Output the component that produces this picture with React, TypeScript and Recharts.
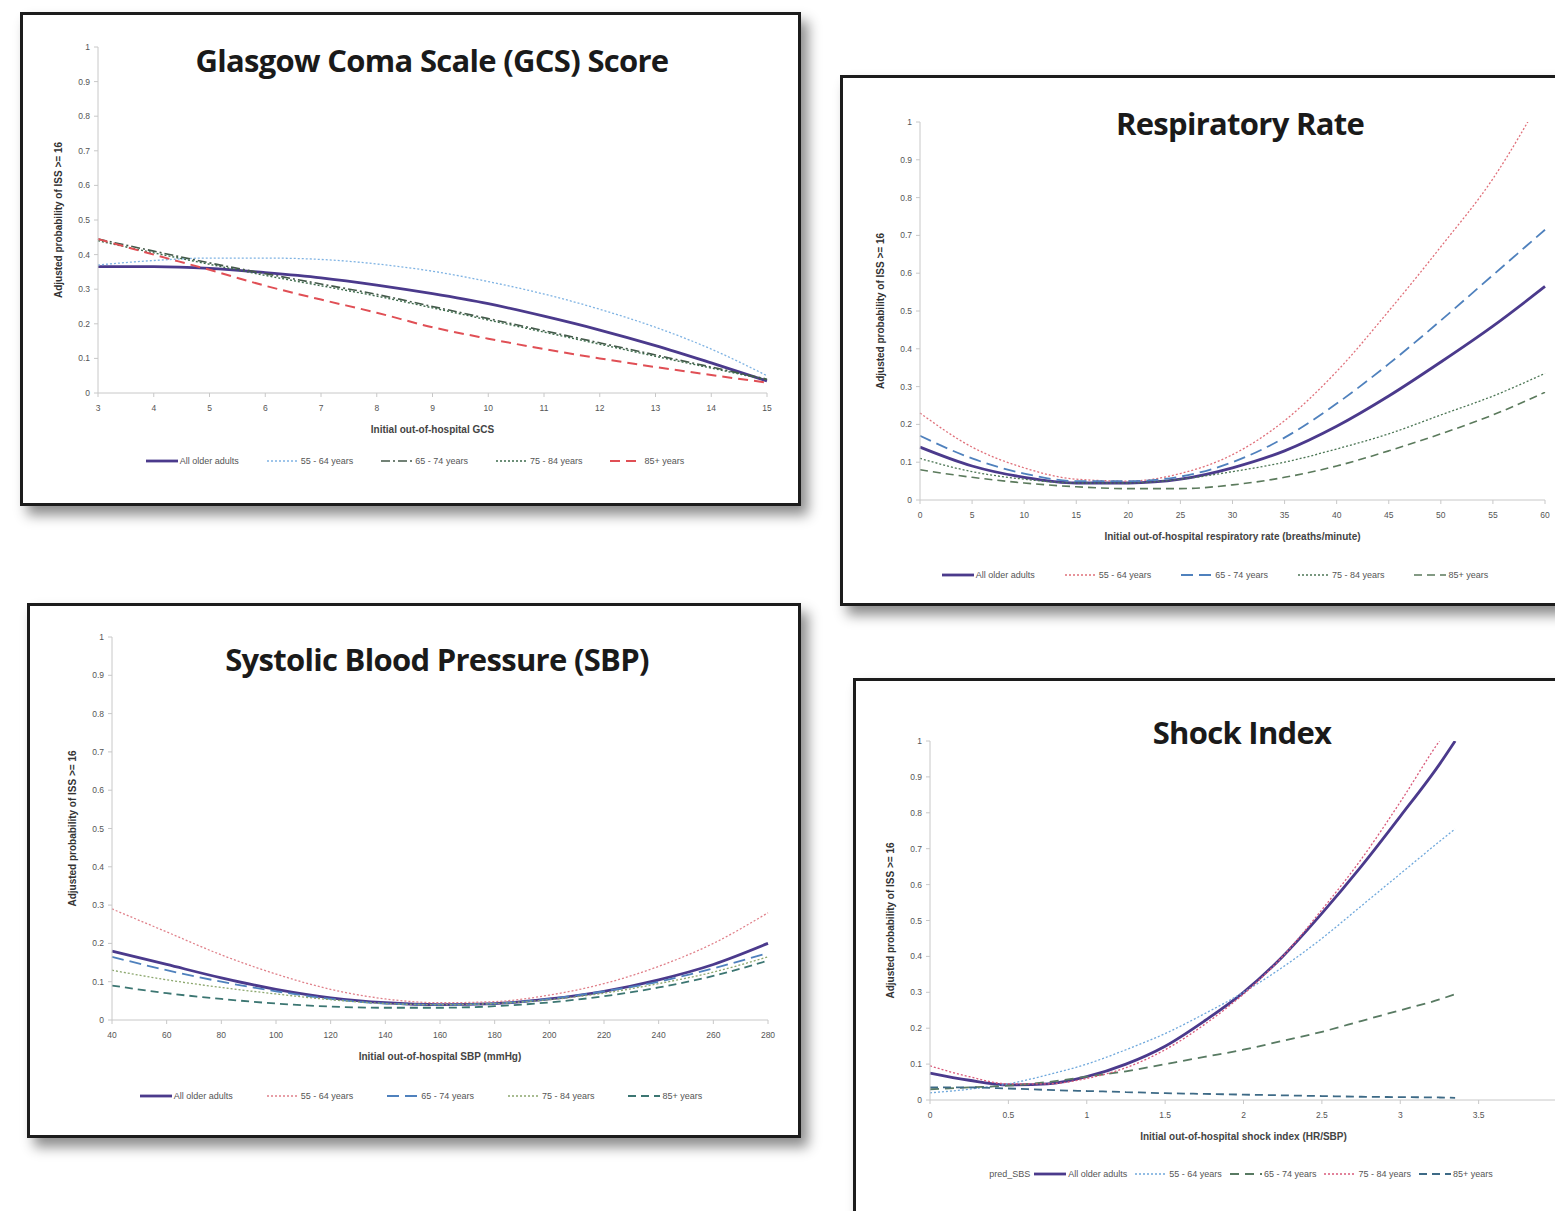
import { LineChart, Line, XAxis, YAxis, Legend } from 'recharts';

// ---------- GCS ----------
const gcsX = [3, 4, 5, 6, 7, 8, 9, 10, 11, 12, 13, 14, 15];
const gcsAll = [0.365, 0.365, 0.36, 0.348, 0.333, 0.312, 0.287, 0.258, 0.222, 0.182, 0.137, 0.087, 0.035];
const gcs5564 = [0.37, 0.383, 0.39, 0.39, 0.386, 0.373, 0.352, 0.322, 0.286, 0.242, 0.19, 0.127, 0.05];
const gcs6574 = [0.445, 0.41, 0.376, 0.345, 0.315, 0.285, 0.25, 0.215, 0.18, 0.145, 0.11, 0.075, 0.04];
const gcs7584 = [0.44, 0.405, 0.372, 0.34, 0.31, 0.28, 0.246, 0.211, 0.176, 0.141, 0.106, 0.072, 0.038];
const gcs85 = [0.445, 0.4, 0.356, 0.31, 0.27, 0.232, 0.19, 0.157, 0.127, 0.1, 0.075, 0.052, 0.03];

// ---------- Respiratory rate ----------
const rrX = [0, 5, 10, 15, 20, 25, 30, 35, 40, 45, 50, 55, 60];
const rrAll = [0.14, 0.09, 0.06, 0.045, 0.045, 0.055, 0.085, 0.13, 0.195, 0.275, 0.365, 0.46, 0.565];
const rr5564 = [0.23, 0.14, 0.085, 0.055, 0.05, 0.07, 0.12, 0.21, 0.34, 0.5, 0.67, 0.85, 1.08];
const rr6574 = [0.17, 0.11, 0.07, 0.05, 0.05, 0.062, 0.1, 0.165, 0.255, 0.36, 0.475, 0.595, 0.715];
const rr7584 = [0.11, 0.075, 0.055, 0.045, 0.045, 0.055, 0.075, 0.1, 0.135, 0.175, 0.225, 0.275, 0.335];
const rr85 = [0.08, 0.06, 0.045, 0.035, 0.03, 0.03, 0.04, 0.06, 0.09, 0.13, 0.175, 0.225, 0.285];

// ---------- SBP ----------
const sbpX = [40, 60, 80, 100, 120, 140, 160, 180, 200, 220, 240, 260, 280];
const sbpAll = [0.18, 0.145, 0.11, 0.08, 0.058, 0.045, 0.04, 0.043, 0.055, 0.075, 0.105, 0.145, 0.2];
const sbp5564 = [0.29, 0.23, 0.17, 0.12, 0.08, 0.055, 0.045, 0.048, 0.065, 0.095, 0.14, 0.2, 0.28];
const sbp6574 = [0.165, 0.13, 0.1, 0.075, 0.055, 0.043, 0.04, 0.043, 0.055, 0.075, 0.1, 0.135, 0.175];
const sbp7584 = [0.13, 0.105, 0.085, 0.068, 0.053, 0.043, 0.04, 0.043, 0.053, 0.07, 0.095, 0.125, 0.165];
const sbp85 = [0.09, 0.07, 0.055, 0.043, 0.035, 0.032, 0.032, 0.036, 0.046, 0.062, 0.085, 0.115, 0.155];

// ---------- Shock index ----------
const siX = [0, 0.25, 0.5, 0.75, 1, 1.25, 1.5, 1.75, 2, 2.25, 2.5, 2.75, 3, 3.25, 3.35];
const siAll = [0.075, 0.055, 0.042, 0.045, 0.065, 0.1, 0.15, 0.22, 0.3, 0.4, 0.52, 0.65, 0.79, 0.935, 1.0];
const si5564 = [0.02, 0.03, 0.045, 0.07, 0.1, 0.14, 0.185, 0.24, 0.3, 0.37, 0.45, 0.54, 0.63, 0.72, 0.755];
const si6574 = [0.03, 0.035, 0.04, 0.05, 0.065, 0.08, 0.1, 0.12, 0.14, 0.165, 0.19, 0.22, 0.25, 0.28, 0.295];
const si7584 = [0.095, 0.065, 0.045, 0.045, 0.06, 0.09, 0.14, 0.21, 0.295, 0.4, 0.53, 0.67, 0.83, 1.0, 1.06];
const si85 = [0.035, 0.035, 0.032, 0.028, 0.025, 0.022, 0.019, 0.017, 0.015, 0.013, 0.011, 0.009, 0.008, 0.007, 0.006];
const siTicks = [0, 0.5, 1, 1.5, 2, 2.5, 3, 3.5];

const yTicks = [0, 0.1, 0.2, 0.3, 0.4, 0.5, 0.6, 0.7, 0.8, 0.9, 1];
const seriesNames = ['All older adults', '55 - 64 years', '65 - 74 years', '75 - 84 years', '85+ years'];
const yLabel = 'Adjusted probability of ISS >= 16';

const FONT = '"Open Sans", "Noto Sans", sans-serif';
const TICK_FONT = '"Liberation Sans", Arial, sans-serif';

type Style = { color: string; width: number; dash?: string };

function buildRows(xs: number[], cols: number[][]) {
  return xs.map((x, i) => {
    const row: Record<string, number> = { x };
    cols.forEach((c, j) => {
      row['s' + j] = c[i];
    });
    return row;
  });
}

interface PanelProps {
  box: { left: number; top: number; width: number; height: number };
  plot: { x0: number; x1: number; y1: number; y0: number };
  title: string;
  titleX: number;
  titleY: number;
  xDomain: [number, number];
  xTicks: number[];
  xLabel: string;
  legendX: number;
  legendY: number;
  legendGap: number;
  legendPrefix?: string;
  rows: Record<string, number>[];
  styles: Style[];
}

const BORDER = 3;
const YW = 40;
const XH = 45;

function LegendRow({ payload, prefix, gap }: any) {
  const items = [...(payload || [])].sort(
    (a: any, b: any) => seriesNames.indexOf(a.value) - seriesNames.indexOf(b.value)
  );
  return (
    <div
      style={{
        display: 'flex',
        justifyContent: 'center',
        alignItems: 'center',
        gap,
        fontFamily: TICK_FONT,
        fontSize: 9,
        color: '#555',
        whiteSpace: 'nowrap',
      }}
    >
      {prefix && <span style={{ marginRight: -gap + 4 }}>{prefix}</span>}
      {items.map((p: any) => (
        <span key={p.value} style={{ display: 'flex', alignItems: 'center', gap: 2 }}>
          <svg width={32} height={6}>
            <line
              x1={0}
              y1={3}
              x2={32}
              y2={3}
              stroke={p.color}
              strokeWidth={p.payload?.strokeWidth}
              strokeDasharray={p.payload?.strokeDasharray}
            />
          </svg>
          {p.value}
        </span>
      ))}
    </div>
  );
}

function Panel(props: PanelProps) {
  const { box, plot } = props;
  const ox = box.left + BORDER;
  const oy = box.top + BORDER;
  const cw = box.width - 2 * BORDER;
  const ch = box.height - 2 * BORDER;
  const margin = {
    left: plot.x0 - ox - YW,
    right: cw - (plot.x1 - ox),
    top: plot.y1 - oy,
    bottom: ch - (plot.y0 - oy) - XH,
  };
  return (
    <div
      style={{
        position: 'absolute',
        left: box.left,
        top: box.top,
        width: box.width - 2 * BORDER,
        height: box.height - 2 * BORDER,
        border: `${BORDER}px solid #1c1c1c`,
        background: '#fff',
        boxShadow: '7px 9px 12px rgba(0,0,0,0.45)',
      }}
    >
      <LineChart width={cw} height={ch} data={props.rows} margin={margin}>
        <XAxis
          dataKey="x"
          type="number"
          domain={props.xDomain}
          ticks={props.xTicks}
          height={XH}
          stroke="#c8c8c8"
          tickSize={4}
          tickMargin={8}
          tick={{ fontSize: 8.5, fill: '#555', fontFamily: TICK_FONT }}
          label={{
            value: props.xLabel,
            position: 'insideBottom',
            offset: 5,
            style: { fontSize: 10, fill: '#444', fontFamily: TICK_FONT, fontWeight: 700 },
          }}
        />
        <YAxis
          type="number"
          domain={[0, 1]}
          ticks={yTicks}
          allowDataOverflow
          width={YW}
          stroke="#c8c8c8"
          tickSize={4}
          tickMargin={4}
          tickFormatter={(v: number) => String(Math.round(v * 10) / 10)}
          tick={{ fontSize: 8.5, fill: '#555', fontFamily: TICK_FONT }}
          label={{
            value: yLabel,
            angle: -90,
            position: 'insideLeft',
            offset: 0,
            style: { fontSize: 10, fill: '#333', fontFamily: TICK_FONT, fontWeight: 700, textAnchor: 'middle' },
          }}
        />
        <Legend
          layout="horizontal"
          verticalAlign="middle"
          align="center"
          wrapperStyle={{ top: props.legendY - oy - 6, left: props.legendX - ox - 400, width: 800 }}
          content={(p: any) => <LegendRow payload={p.payload} prefix={props.legendPrefix} gap={props.legendGap} />}
        />
        {props.styles.map((s, i) => (
          <Line
            key={i}
            type="monotone"
            dataKey={'s' + i}
            name={seriesNames[i]}
            stroke={s.color}
            strokeWidth={s.width}
            strokeDasharray={s.dash}
            dot={false}
            activeDot={false}
            isAnimationActive={false}
          />
        ))}
      </LineChart>
      <div
        style={{
          position: 'absolute',
          left: props.titleX - ox - 300,
          width: 600,
          top: props.titleY - oy - 21,
          textAlign: 'center',
          fontFamily: FONT,
          fontWeight: 700,
          fontSize: 31,
          letterSpacing: -0.7,
          color: '#1a1a1a',
          lineHeight: '42px',
        }}
      >
        {props.title}
      </div>
    </div>
  );
}

const PURPLE = '#4b3a8c';

const gcsStyles: Style[] = [
  { color: PURPLE, width: 2.8 },
  { color: '#7fb3e3', width: 1.3, dash: '2 2' },
  { color: '#44594a', width: 1.6, dash: '9 3 2 3' },
  { color: '#3d6b4c', width: 1.4, dash: '2 2' },
  { color: '#e04f55', width: 2, dash: '10 6' },
];
const rrStyles: Style[] = [
  { color: PURPLE, width: 2.8 },
  { color: '#e0707a', width: 1.3, dash: '2 2' },
  { color: '#4f81bd', width: 1.8, dash: '12 6' },
  { color: '#4c7655', width: 1.3, dash: '2 2' },
  { color: '#5b7a5c', width: 1.6, dash: '8 5' },
];
const sbpStyles: Style[] = [
  { color: PURPLE, width: 2.8 },
  { color: '#e0808a', width: 1.3, dash: '2 2' },
  { color: '#4f81bd', width: 1.8, dash: '12 6' },
  { color: '#8ca76e', width: 1.3, dash: '2 2' },
  { color: '#3c7672', width: 1.8, dash: '8 5' },
];
const siStyles: Style[] = [
  { color: PURPLE, width: 2.8 },
  { color: '#6fa8dc', width: 1.3, dash: '2 2' },
  { color: '#587a62', width: 1.8, dash: '9 6' },
  { color: '#d95a7a', width: 1.3, dash: '2 2' },
  { color: '#3d6a86', width: 1.8, dash: '8 5' },
];

export default function App() {
  return (
    <div
      style={{
        position: 'fixed',
        left: 0,
        top: 0,
        width: 1555,
        height: 1211,
        overflow: 'hidden',
        background: '#fff',
      }}
    >
      <Panel
        box={{ left: 20, top: 12, width: 781, height: 494 }}
        plot={{ x0: 98, x1: 767, y1: 47, y0: 393 }}
        title="Glasgow Coma Scale (GCS) Score"
        titleX={432}
        titleY={60}
        xDomain={[3, 15]}
        xTicks={gcsX}
        xLabel="Initial out-of-hospital GCS"
        legendX={415}
        legendY={462}
        legendGap={28}
        rows={buildRows(gcsX, [gcsAll, gcs5564, gcs6574, gcs7584, gcs85])}
        styles={gcsStyles}
      />
      <Panel
        box={{ left: 840, top: 75, width: 740, height: 531 }}
        plot={{ x0: 920, x1: 1545, y1: 122, y0: 500 }}
        title="Respiratory Rate"
        titleX={1240}
        titleY={123}
        xDomain={[0, 60]}
        xTicks={rrX}
        xLabel="Initial out-of-hospital respiratory rate (breaths/minute)"
        legendX={1215}
        legendY={576}
        legendGap={30}
        rows={buildRows(rrX, [rrAll, rr5564, rr6574, rr7584, rr85])}
        styles={rrStyles}
      />
      <Panel
        box={{ left: 27, top: 603, width: 774, height: 535 }}
        plot={{ x0: 112, x1: 768, y1: 637, y0: 1020 }}
        title="Systolic Blood Pressure (SBP)"
        titleX={437}
        titleY={659}
        xDomain={[40, 280]}
        xTicks={sbpX}
        xLabel="Initial out-of-hospital SBP (mmHg)"
        legendX={421}
        legendY={1097}
        legendGap={34}
        rows={buildRows(sbpX, [sbpAll, sbp5564, sbp6574, sbp7584, sbp85])}
        styles={sbpStyles}
      />
      <Panel
        box={{ left: 853, top: 678, width: 740, height: 560 }}
        plot={{ x0: 930, x1: 1557, y1: 741, y0: 1100 }}
        title="Shock Index"
        titleX={1242}
        titleY={732}
        xDomain={[0, 4]}
        xTicks={siTicks}
        xLabel="Initial out-of-hospital shock index (HR/SBP)"
        legendX={1241}
        legendY={1175}
        legendGap={8}
        legendPrefix="pred_SBS"
        rows={buildRows(siX, [siAll, si5564, si6574, si7584, si85])}
        styles={siStyles}
      />
    </div>
  );
}
